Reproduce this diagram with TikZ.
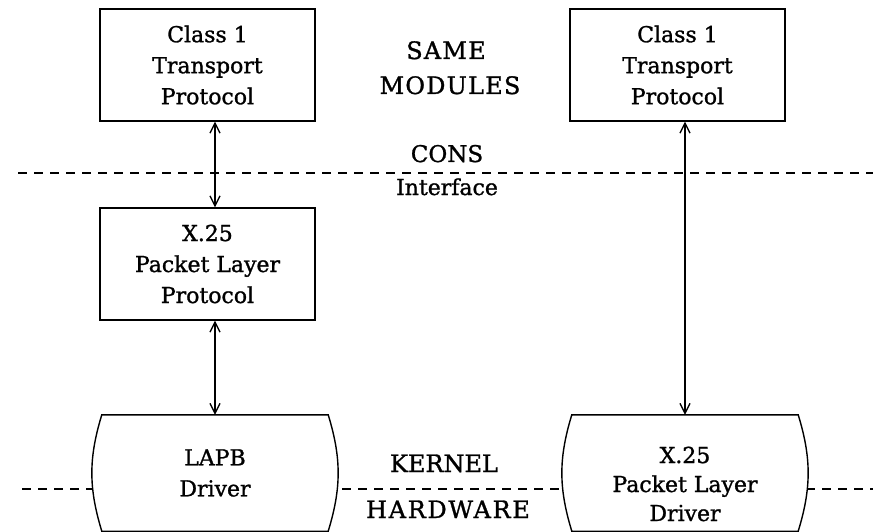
\documentclass[tikz,border=0pt]{standalone}
\usepackage{fontspec}
\setmainfont{DejaVu Serif}[FakeBold=1.2]
\usetikzlibrary{arrows.meta,backgrounds}
\begin{document}
\begin{tikzpicture}[x=1pt,y=-1pt,
  txt/.style={font=\fontsize{22}{31}\selectfont, align=center, inner sep=0pt},
  box/.style={txt, draw, line width=1.4pt, minimum width=215pt, minimum height=112pt},
  drv/.style={txt, minimum width=226pt, minimum height=116pt},
  drvshape/.style={line width=1.4pt, fill=white},
  lbl/.style={font=\fontsize{24}{30}\selectfont, anchor=base, inner sep=0pt},
  sep/.style={dash pattern=on 9pt off 7pt, line width=1.4pt},
  conn/.style={line width=1.4pt, {Straight Barb[length=10pt,width=10pt,line width=1.3pt]}-{Straight Barb[length=10pt,width=10pt,line width=1.3pt]}}
]
\useasboundingbox (0,0) rectangle (873,532);
\node[box] (t1) at (207.5,65) {Class 1\\Transport\\Protocol};
\node[box] (t2) at (677.5,65) {Class 1\\Transport\\Protocol};
\node[box] (x25) at (207.5,264) {X.25\\Packet Layer\\Protocol};
\node[drv] (lapb) at (215,473) {LAPB\\Driver};
\node[drv, font=\fontsize{22}{29}\selectfont] (hwd) at (685,484) {X.25\\Packet Layer\\Driver};

\node[lbl] (same) at (446,59) {\addfontfeatures{LetterSpace=5}SAME};
\node[lbl] (mod) at (450,94) {\addfontfeatures{LetterSpace=5}MODULES};
\node[lbl, font=\fontsize{23}{30}\selectfont] (intfc) at (447,162) {CONS};
\node[lbl, font=\fontsize{22}{30}\selectfont] (intf) at (447,195) {Interface};
\node[lbl] (kern) at (444,472) {KERNEL};
\node[lbl] (hard) at (448,518) {\addfontfeatures{LetterSpace=7}HARDWARE};

\begin{pgfonlayer}{background}
\draw[sep] (18,173) -- (873,173);
\draw[sep] (22,489) -- (873,489);
\draw[drvshape] (lapb.north west) -- (lapb.north east) to[bend left=17] (lapb.south east) -- (lapb.south west) to[bend left=17] (lapb.north west) -- cycle;
\draw[drvshape] (hwd.west |- lapb.north) -- (hwd.east |- lapb.north) to[bend left=17] (hwd.east |- lapb.south) -- (hwd.west |- lapb.south) to[bend left=17] (hwd.west |- lapb.north) -- cycle;
\end{pgfonlayer}

\draw[conn] (t1.south -| lapb) -- (x25.north -| lapb);
\draw[conn] (x25.south -| lapb) -- (lapb.north);
\draw[conn] (t2.south -| hwd) -- (hwd.north |- lapb.north);
\end{tikzpicture}
\end{document}
